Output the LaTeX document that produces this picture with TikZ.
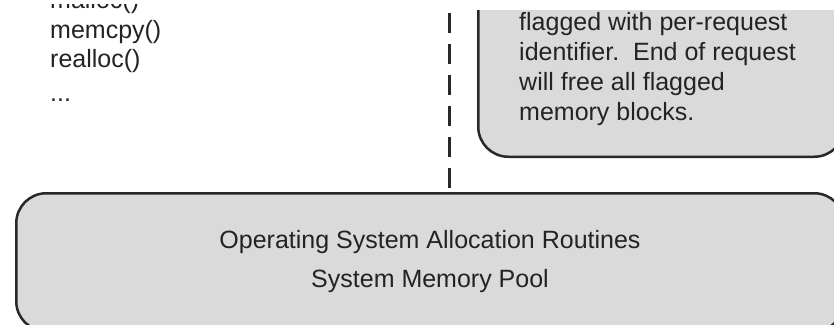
\documentclass[tikz,border=0pt]{standalone}
\usepackage{fontspec}
\setmainfont{Liberation Sans}
\definecolor{boxfill}{RGB}{218,218,218}
\definecolor{boxline}{RGB}{40,40,40}
\definecolor{inktext}{RGB}{35,35,35}
\begin{document}
\begin{tikzpicture}[x=1pt,y=-1pt,
  membox/.style={draw=boxline, line width=2.5pt, fill=boxfill, rounded corners=30pt, inner sep=0pt},
  lbl/.style={inner sep=0pt, text=inktext, font=\fontsize{25}{30}\selectfont},
  sepline/.style={draw=boxline, line width=3pt, dash pattern=on 20pt off 11pt}]
\useasboundingbox (0,0) rectangle (834,324);
\fill[white] (0,0) rectangle (834,324);
\begin{scope}
\clip (0,10) rectangle (834,324);
% right box (continues above and to the right)
\node[membox, anchor=south west, minimum width=366pt, minimum height=220pt] (reqbox) at (477,158) {};
% bottom box
\node[membox, anchor=north west, minimum width=828pt, minimum height=138pt] (osbox) at (15,192) {};
% separator
\coordinate (septop) at (449,13);
\draw[sepline] (septop) -- (septop |- osbox.north);
\end{scope}
\begin{scope}
\clip (0,4) rectangle (834,324);
\node[lbl, anchor=base west] (tmalloc) at (50,9) {malloc()};
\end{scope}
% left text
\node[lbl, anchor=base west] (tmemcpy) at (50,38) {memcpy()};
\node[lbl, anchor=base west] (trealloc) at (50,67) {realloc()};
\node[lbl, anchor=base west] (tdots) at (50,101) {...};
% right box text
\node[lbl, anchor=base west] (r1) at (519,30) {flagged with per-request};
\node[lbl, anchor=base west] (r2) at (519,60) {identifier.\ \ End of request};
\node[lbl, anchor=base west] (r3) at (519,90) {will free all flagged};
\node[lbl, anchor=base west] (r4) at (519,120) {memory blocks.};
% bottom box text
\node[lbl, anchor=base] (os1) at (430,248) {Operating System Allocation Routines};
\node[lbl, anchor=base] (os2) at (430,287) {System Memory Pool};
\end{tikzpicture}
\end{document}
